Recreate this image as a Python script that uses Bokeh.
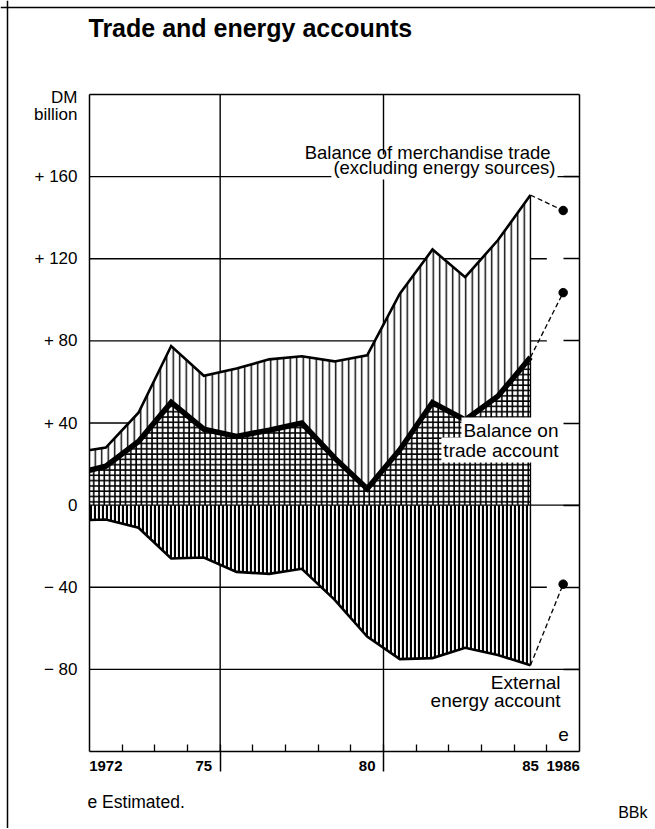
from bokeh.plotting import figure
from bokeh.models import Range1d, FixedTicker, LinearAxis, Span, Label, ColumnDataSource
from bokeh.embed import file_html
from bokeh.resources import INLINE

# ---------------- data (DM billion) ----------------
years = list(range(1971, 1986))
merch_ex_energy = [25.5, 28, 45, 77.5, 63, 66.5, 71, 72.5, 70, 73, 103, 124.5, 111, 129, 151]
trade_balance = [15, 19, 31, 50, 37, 33.5, 36.5, 40, 23, 8, 27, 50, 41.5, 53, 72]
energy_account = [-7.5, -7, -11, -26, -25.5, -32.5, -33.5, -31, -46, -64, -75, -74.5, -69.5, -73, -78]
est_year = 1986
est_merch = 143.5
est_trade = 103.5
est_energy = -38.5

y_ticks = [-80, -40, 0, 40, 80, 120, 160]
y_tick_labels = ["\u2212 80", "\u2212 40", "0", "+ 40", "+ 80", "+ 120", "+ 160"]
full_lines = [160, 0, -80]
x_label_years = [1972, 1975, 1980, 1985, 1986]
x_labels = ["1972", "75", "80", "85", "1986"]
section_years = [1975, 1980]

# ---------------- geometry ----------------
W, H = 655, 828
BOX_L, BOX_R, BOX_T, BOX_B = 89, 579, 94, 751      # chart box in page pixels
X0, X1 = years[0] + 0.5, est_year + 0.5
Y0, Y1 = -120, 200
kx = (BOX_R - BOX_L) / (X1 - X0)
ky = (BOX_B - BOX_T) / (Y1 - Y0)
FONT = "Liberation Sans"

x_range = Range1d(X0 - BOX_L / kx, X1 + (W - BOX_R) / kx)
y_range = Range1d(Y0 - (H - BOX_B) / ky, Y1 + BOX_T / ky)

p = figure(frame_width=W, frame_height=H, min_border=0, x_range=x_range, y_range=y_range,
           x_axis_location=None, y_axis_location=None,
           output_backend="svg", toolbar_location=None, tools="",
           background_fill_color="white", border_fill_color="white",
           outline_line_color=None)
p.grid.visible = False


def add_axis(side, loc, **kw):
    ax = LinearAxis(fixed_location=loc, **kw)
    p.add_layout(ax, side)
    return ax


boundaries = [y + 0.5 for y in years[1:]]
section_bounds = [s + 0.5 for s in section_years]

# bottom axis: year labels, small inward ticks at year boundaries
add_axis("below", Y0, ticker=FixedTicker(ticks=x_label_years, minor_ticks=boundaries),
         bounds=(X0, X1), axis_line_color="black", axis_line_width=1.5,
         major_tick_in=0, major_tick_out=0,
         minor_tick_in=7, minor_tick_out=0, minor_tick_line_color="black", minor_tick_line_width=1.3,
         major_label_overrides=dict(zip(x_label_years, x_labels)), major_label_standoff=9,
         major_label_text_font=FONT, major_label_text_font_style="bold",
         major_label_text_font_size="15px", major_label_text_color="black")
# long outward ticks at the section dividers
add_axis("below", Y0, ticker=FixedTicker(ticks=[], minor_ticks=section_bounds),
         bounds=(X0, X1), axis_line_color=None, major_tick_line_color=None,
         minor_tick_in=0, minor_tick_out=20, minor_tick_line_color="black", minor_tick_line_width=1.5)
# left axis with value labels
add_axis("left", X0, ticker=FixedTicker(ticks=y_ticks), bounds=(Y0, Y1),
         axis_line_color="black", axis_line_width=1.5,
         major_tick_in=0, major_tick_out=0, minor_tick_line_color=None,
         major_label_overrides=dict(zip(y_ticks, y_tick_labels)), major_label_standoff=12,
         major_label_text_font=FONT, major_label_text_font_size="17px", major_label_text_color="black")
# right axis: inward ticks only
add_axis("right", X1, ticker=FixedTicker(ticks=[], minor_ticks=y_ticks), bounds=(Y0, Y1),
         axis_line_color="black", axis_line_width=1.5, major_tick_line_color=None,
         minor_tick_in=16, minor_tick_out=0, minor_tick_line_color="black", minor_tick_line_width=1.3)
# top edge
add_axis("above", Y1, ticker=FixedTicker(ticks=[]), bounds=(X0, X1),
         axis_line_color="black", axis_line_width=1.5, major_tick_line_color=None,
         minor_tick_line_color=None)

# grid lines that are interrupted by the data areas
partial = [v for v in y_ticks if v not in full_lines]
p.segment(x0=[X0] * len(partial), x1=[years[-1] + 0.5] * len(partial), y0=partial, y1=partial,
          line_color="black", line_width=1.3)
p.segment(x0=section_bounds, x1=section_bounds, y0=[Y0] * len(section_bounds),
          y1=[Y1] * len(section_bounds), line_color="black", line_width=1.4)

src = ColumnDataSource(dict(x=years, t=merch_ex_energy, b=trade_balance, e=energy_account,
                            z=[0] * len(years)))

p.varea(x="x", y1="b", y2="t", source=src, fill_color="white",
        hatch_pattern="|", hatch_scale=6.5, hatch_weight=1.4, hatch_color="black")
p.varea(x="x", y1="z", y2="b", source=src, fill_color="white",
        hatch_pattern="+", hatch_scale=5.3, hatch_weight=1.6, hatch_color="black")
p.varea(x="x", y1="e", y2="z", source=src, fill_color="white",
        hatch_pattern="|", hatch_scale=4.0, hatch_weight=2.2, hatch_color="black")

p.segment(x0=[years[-1]], y0=[energy_account[-1]], x1=[years[-1]], y1=[merch_ex_energy[-1]],
          line_color="black", line_width=1.3)

# full-width grid lines
p.segment(x0=[X0] * len(full_lines), x1=[X1] * len(full_lines), y0=full_lines, y1=full_lines,
          line_color="black", line_width=1.3)

p.line("x", "t", source=src, line_color="black", line_width=2.6, line_join="miter")
p.line("x", "e", source=src, line_color="black", line_width=2.6, line_join="miter")
p.line("x", "b", source=src, line_color="black", line_width=5.5, line_join="miter")

for last, est in ((merch_ex_energy[-1], est_merch), (trade_balance[-1], est_trade),
                  (energy_account[-1], est_energy)):
    p.line([years[-1], est_year], [last, est], line_color="black", line_width=1.3, line_dash="5 3")
p.scatter(x=[est_year] * 3, y=[est_merch, est_trade, est_energy], size=8.5,
          fill_color="black", line_color="black")

# the series start half a year before the first labelled year: mask what lies left of the box
p.quad(left=[x_range.start], right=[X0], bottom=[y_range.start], top=[y_range.end],
       fill_color="white", line_color=None)

# outer border of the page (left and top)
p.add_layout(Span(location=7, location_units="screen", dimension="height",
                  line_color="black", line_width=1.5))
p.add_layout(Span(location=H - 7, location_units="screen", dimension="width",
                  line_color="black", line_width=1.5))


def txt(px, py, text, align="left", size="19px", style="normal", bg=None):
    kw = dict(background_fill_color=bg, padding=2) if bg else {}
    p.add_layout(Label(x=px, y=H - py, x_units="screen", y_units="screen", text=text,
                       text_align=align, text_font=FONT, text_font_size=size,
                       text_font_style=style, text_color="black", **kw))


txt(557, 179, "(excluding energy sources)", align="right", size="18.5px", bg="white")
txt(550, 162, "Balance of merchandise trade", align="right", size="18.5px")
txt(560, 442, "Balance on", align="right", bg="white")
txt(560, 462, "trade account", align="right", bg="white")
txt(560, 692, "External", align="right")
txt(560, 710, "energy account", align="right")
txt(563, 740, "e", align="center")

txt(88, 41, "Trade and energy accounts", size="25px", style="bold")
txt(77, 106.5, "DM", align="right", size="17px")
txt(77, 123, "billion", align="right", size="17px")
txt(87, 811, "e Estimated.", size="17.5px")
txt(647, 820, "BBk", align="right", size="16px")

open("out.html", "w").write(file_html(p, INLINE))
